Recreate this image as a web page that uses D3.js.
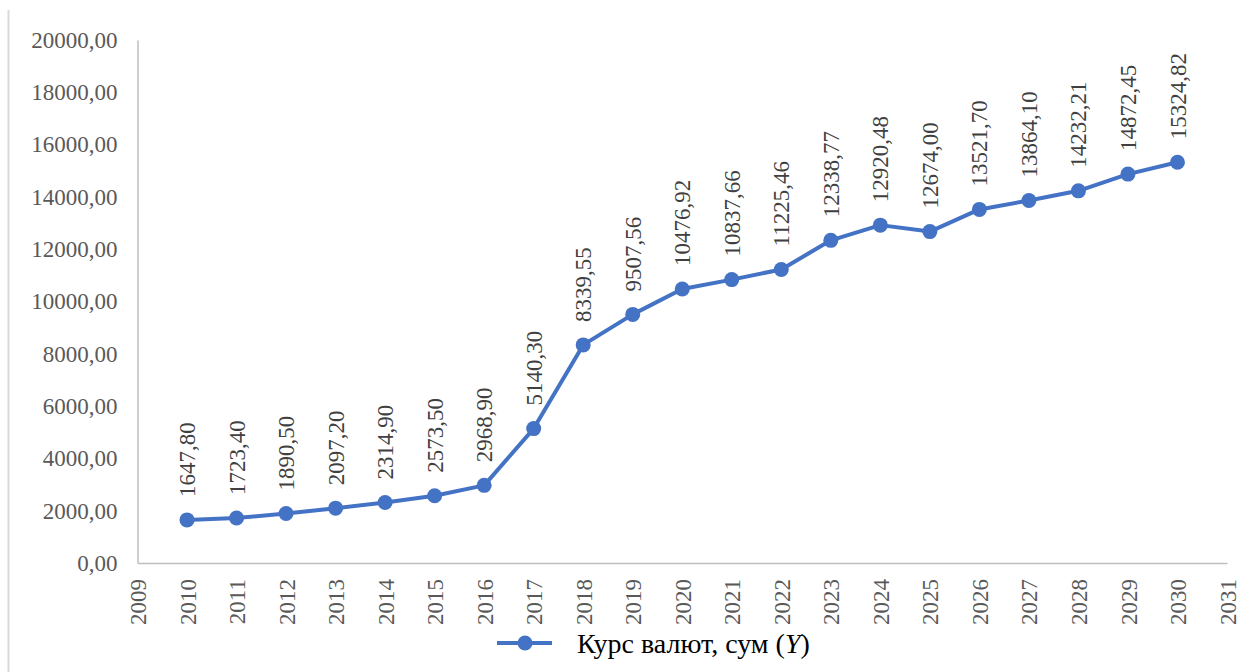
<!DOCTYPE html>
<html>
<head>
    <meta charset="utf-8">
    <title>Курс валют</title>
    <script src="https://d3js.org/d3.v7.min.js"></script>
    <style>
        body { margin: 0; background: #ffffff; }
        svg { display: block; }
        svg text { font-family: "Liberation Serif", "Times New Roman", Times, "DejaVu Serif", serif; }
    </style>
</head>
<body>
    <svg width="1245" height="672"></svg>
    <script>
        // data
        const years = [2010, 2011, 2012, 2013, 2014, 2015, 2016, 2017, 2018, 2019, 2020,
                       2021, 2022, 2023, 2024, 2025, 2026, 2027, 2028, 2029, 2030];
        const rates = [1647.80, 1723.40, 1890.50, 2097.20, 2314.90, 2573.50, 2968.90, 5140.30,
                       8339.55, 9507.56, 10476.92, 10837.66, 11225.46, 12338.77, 12920.48,
                       12674.00, 13521.70, 13864.10, 14232.21, 14872.45, 15324.82];
        const xTicks = d3.range(2009, 2032);
        const yTicks = d3.range(0, 20001, 2000);
        const seriesName = "Курс валют, сум (";

        const svg = d3.select("svg");
        const blue = "#4472C4";

        // outer chart border (only the left edge is visible in the picture)
        svg.append("line")
            .attr("x1", 8.5).attr("x2", 8.5)
            .attr("y1", 10).attr("y2", 672)
            .attr("stroke", "#D9D9D9")
            .attr("stroke-width", 2);

        const x = d3.scaleLinear().domain([2009, 2031]).range([137.5, 1227]);
        const y = d3.scaleLinear().domain([0, 20000]).range([563, 40]);

        const fmt = v => d3.format(".2f")(v).replace(".", ",");

        // y axis
        const yAxis = svg.append("g")
            .attr("transform", `translate(${x.range()[0]},0)`)
            .call(d3.axisLeft(y).tickValues(yTicks).tickSize(0).tickPadding(20).tickFormat(fmt));
        yAxis.attr("font-family", null);
        yAxis.select(".domain").attr("stroke", "#BFBFBF").attr("stroke-width", 1.5);
        yAxis.selectAll("text")
            .attr("font-size", 23)
            .attr("fill", "#595959");

        // x axis
        const xAxis = svg.append("g")
            .attr("transform", `translate(0,${y.range()[0]})`)
            .call(d3.axisBottom(x).tickValues(xTicks).tickSize(0).tickFormat(d3.format("d")));
        xAxis.attr("font-family", null);
        xAxis.select(".domain").attr("stroke", "#BFBFBF").attr("stroke-width", 1.5);
        xAxis.selectAll("text")
            .attr("font-size", 23)
            .attr("fill", "#595959")
            .attr("text-anchor", "end")
            .attr("dy", "0.35em")
            .attr("transform", "translate(0,16) rotate(-90)")
            .attr("x", 0)
            .attr("y", 0);

        // line
        const data = years.map((yr, i) => ({ year: yr, value: rates[i] }));
        svg.append("path")
            .datum(data)
            .attr("fill", "none")
            .attr("stroke", blue)
            .attr("stroke-width", 4)
            .attr("stroke-linejoin", "round")
            .attr("d", d3.line().x(d => x(d.year)).y(d => y(d.value)));

        svg.append("g").selectAll("circle")
            .data(data)
            .join("circle")
            .attr("cx", d => x(d.year))
            .attr("cy", d => y(d.value))
            .attr("r", 7.5)
            .attr("fill", blue);

        // data labels
        svg.append("g").selectAll("text")
            .data(data)
            .join("text")
            .attr("transform", d => `translate(${x(d.year)},${y(d.value) - 23}) rotate(-90)`)
            .attr("dy", "0.35em")
            .attr("font-size", 23)
            .attr("fill", "#404040")
            .text(d => fmt(d.value));

        // legend
        const legend = svg.append("g").attr("transform", "translate(497,643)");
        legend.append("line")
            .attr("x1", 0).attr("x2", 55)
            .attr("stroke", blue).attr("stroke-width", 4);
        legend.append("circle").attr("cx", 28).attr("r", 7.5).attr("fill", blue);
        const lt = legend.append("text")
            .attr("x", 80)
            .attr("dy", "0.35em")
            .attr("font-size", 28)
            .attr("fill", "#000000");
        lt.append("tspan").text(seriesName);
        lt.append("tspan").attr("font-style", "italic").text("Y");
        lt.append("tspan").text(")");
    </script>
</body>
</html>
